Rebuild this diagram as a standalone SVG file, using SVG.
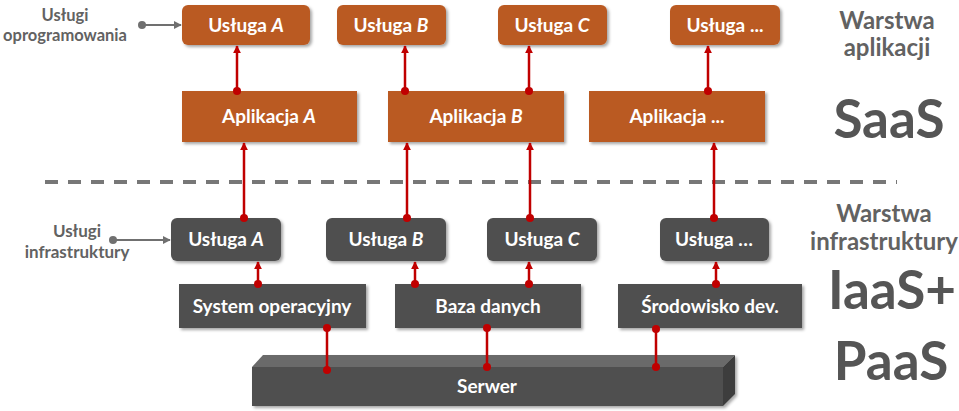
<svg xmlns="http://www.w3.org/2000/svg" width="959" height="411" viewBox="0 0 959 411">
<defs>
<filter id="sh" x="-10%" y="-20%" width="125%" height="150%">
<feDropShadow dx="2" dy="2" stdDeviation="1.5" flood-color="#000" flood-opacity="0.35"/>
</filter>
<marker id="ar" viewBox="0 0 10 10" refX="9" refY="5" markerWidth="8" markerHeight="8" markerUnits="userSpaceOnUse" orient="auto">
<path d="M0,0 L10,5 L0,10 z" fill="#C00000"/>
</marker>
<marker id="ag" viewBox="0 0 10 10" refX="9" refY="5" markerWidth="8" markerHeight="8" markerUnits="userSpaceOnUse" orient="auto">
<path d="M0,0 L10,5 L0,10 z" fill="#707070"/>
</marker>
</defs>
<style>
.or{fill:#BA5A23;filter:url(#sh)}
.gr{fill:#505050;filter:url(#sh)}
.t{font-family:Lato,"Open Sans","Liberation Sans",sans-serif;font-weight:bold;fill:#fff;text-anchor:middle}
.lb{font-family:Lato,"Open Sans","Liberation Sans",sans-serif;font-weight:bold;fill:#626262;text-anchor:middle}
.big{font-family:Lato,"Open Sans","Liberation Sans",sans-serif;font-weight:bold;fill:#555;text-anchor:middle;font-size:53px}
.rl{stroke:#C00000;stroke-width:2.5;fill:none}
.gl{stroke:#707070;stroke-width:2;fill:none}
.rd{fill:#C00000}
.gd{fill:#707070}
</style>

<!-- dashed separator -->
<line x1="45" y1="182" x2="897" y2="182" stroke="#777" stroke-width="4" stroke-dasharray="13 10"/>

<!-- side labels -->
<g id="lbl-uslugi-oprog">
<text class="lb" x="65" y="21" font-size="16.5">Usługi</text>
<text class="lb" x="65" y="41" font-size="16.5">oprogramowania</text>
</g>
<g id="lbl-uslugi-infra">
<text class="lb" x="77" y="237" font-size="17">Usługi</text>
<text class="lb" x="77" y="258" font-size="17">infrastruktury</text>
</g>
<g id="lbl-warstwa-apl">
<text class="lb" x="887" y="29" font-size="24">Warstwa</text>
<text class="lb" x="887" y="56" font-size="24">aplikacji</text>
</g>
<g id="lbl-saas"><text class="big" x="889" y="138">SaaS</text></g>
<g id="lbl-warstwa-infra">
<text class="lb" x="884" y="222" font-size="24">Warstwa</text>
<text class="lb" x="884" y="250" font-size="24">infrastruktury</text>
</g>
<g id="lbl-iaas"><text class="big" x="892" y="309">IaaS+</text></g>
<g id="lbl-paas"><text class="big" x="891" y="380">PaaS</text></g>

<!-- top services -->
<g id="su-a"><rect class="or" x="182" y="5" width="128" height="40" rx="6"/><text class="t" x="246" y="32" font-size="19">Usługa <tspan font-style="italic">A</tspan></text></g>
<g id="su-b"><rect class="or" x="337" y="5" width="109" height="40" rx="6"/><text class="t" x="391" y="32" font-size="19">Usługa <tspan font-style="italic">B</tspan></text></g>
<g id="su-c"><rect class="or" x="498" y="5" width="109" height="40" rx="6"/><text class="t" x="552" y="32" font-size="19">Usługa <tspan font-style="italic">C</tspan></text></g>
<g id="su-x"><rect class="or" x="670" y="5" width="110" height="40" rx="6"/><text class="t" x="725" y="32" font-size="19">Usługa ...</text></g>

<!-- applications -->
<g id="app-a"><rect class="or" x="182" y="91" width="175" height="51"/><text class="t" x="269" y="123" font-size="19">Aplikacja <tspan font-style="italic">A</tspan></text></g>
<g id="app-b"><rect class="or" x="388" y="91" width="176" height="51"/><text class="t" x="476" y="123" font-size="19">Aplikacja <tspan font-style="italic">B</tspan></text></g>
<g id="app-x"><rect class="or" x="589" y="91" width="176" height="51"/><text class="t" x="677" y="123" font-size="19">Aplikacja ...</text></g>

<!-- infra services -->
<g id="si-a"><rect class="gr" x="171" y="218" width="110" height="43" rx="6"/><text class="t" x="226" y="246" font-size="19">Usługa <tspan font-style="italic">A</tspan></text></g>
<g id="si-b"><rect class="gr" x="326" y="218" width="120" height="43" rx="6"/><text class="t" x="386" y="246" font-size="19">Usługa <tspan font-style="italic">B</tspan></text></g>
<g id="si-c"><rect class="gr" x="487" y="218" width="110" height="43" rx="6"/><text class="t" x="542" y="246" font-size="19">Usługa <tspan font-style="italic">C</tspan></text></g>
<g id="si-x"><rect class="gr" x="660" y="218" width="109" height="43" rx="6"/><text class="t" x="714" y="246" font-size="19">Usługa …</text></g>

<!-- platform -->
<g id="os"><rect class="gr" x="179" y="284" width="187" height="44"/><text class="t" x="272" y="313" font-size="19">System operacyjny</text></g>
<g id="db"><rect class="gr" x="395" y="284" width="186" height="44"/><text class="t" x="488" y="313" font-size="19">Baza danych</text></g>
<g id="dev"><rect class="gr" x="618" y="284" width="184" height="44"/><text class="t" x="710" y="313" font-size="19">Środowisko dev.</text></g>

<!-- server -->
<g id="serwer">
<g filter="url(#sh)">
<polygon points="252,367 263,355 735,355 723,367" fill="#6A6A6A"/>
<polygon points="723,367 735,355 735,394 723,406" fill="#3E3E3E"/>
<rect x="252" y="367" width="471" height="39" fill="#505050"/>
</g>
<text class="t" x="487" y="393" font-size="19">Serwer</text>
</g>

<!-- connectors -->
<g id="connectors">
<line class="gl" x1="142" y1="25" x2="181" y2="25" marker-end="url(#ag)"/>
<circle class="gd" cx="142" cy="25" r="4"/>
<line class="gl" x1="113" y1="240" x2="170" y2="240" marker-end="url(#ag)"/>
<circle class="gd" cx="113" cy="240" r="4"/>

<line class="rl" x1="237" y1="91" x2="237" y2="46" marker-end="url(#ar)"/>
<line class="rl" x1="405" y1="91" x2="405" y2="46" marker-end="url(#ar)"/>
<line class="rl" x1="529" y1="91" x2="529" y2="46" marker-end="url(#ar)"/>
<line class="rl" x1="708" y1="91" x2="708" y2="46" marker-end="url(#ar)"/>
<circle class="rd" cx="237" cy="91" r="4"/>
<circle class="rd" cx="405" cy="91" r="4"/>
<circle class="rd" cx="529" cy="91" r="4"/>
<circle class="rd" cx="708" cy="91" r="4"/>

<line class="rl" x1="244" y1="218" x2="244" y2="143" marker-end="url(#ar)"/>
<line class="rl" x1="407" y1="218" x2="407" y2="143" marker-end="url(#ar)"/>
<line class="rl" x1="530" y1="218" x2="530" y2="143" marker-end="url(#ar)"/>
<line class="rl" x1="714" y1="218" x2="714" y2="143" marker-end="url(#ar)"/>
<circle class="rd" cx="244" cy="218" r="4"/>
<circle class="rd" cx="407" cy="218" r="4"/>
<circle class="rd" cx="530" cy="218" r="4"/>
<circle class="rd" cx="714" cy="218" r="4"/>

<line class="rl" x1="258" y1="284" x2="258" y2="262" marker-end="url(#ar)"/>
<line class="rl" x1="415" y1="284" x2="415" y2="262" marker-end="url(#ar)"/>
<line class="rl" x1="529" y1="284" x2="529" y2="262" marker-end="url(#ar)"/>
<line class="rl" x1="716" y1="284" x2="716" y2="262" marker-end="url(#ar)"/>
<circle class="rd" cx="258" cy="284" r="4"/>
<circle class="rd" cx="415" cy="284" r="4"/>
<circle class="rd" cx="529" cy="284" r="4"/>
<circle class="rd" cx="716" cy="284" r="4"/>

<line class="rl" x1="327" y1="328" x2="327" y2="370"/>
<circle class="rd" cx="327" cy="328" r="4"/>
<circle class="rd" cx="327" cy="370" r="4"/>
<line class="rl" x1="487" y1="328" x2="487" y2="367"/>
<circle class="rd" cx="487" cy="328" r="4"/>
<circle class="rd" cx="487" cy="367" r="4"/>
<line class="rl" x1="656" y1="329" x2="656" y2="367"/>
<circle class="rd" cx="656" cy="329" r="4"/>
<circle class="rd" cx="656" cy="367" r="4"/>
</g>
</svg>
